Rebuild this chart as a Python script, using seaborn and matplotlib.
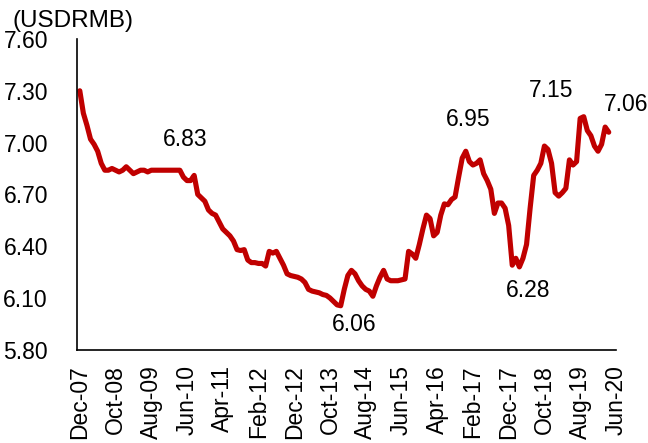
import numpy as np
import pandas as pd
import seaborn as sns
import matplotlib
matplotlib.use("Agg")
import matplotlib.pyplot as plt

# monthly USDRMB, Dec-07 .. Apr-20
usdrmb = [
    7.30, 7.17, 7.10, 7.02, 6.99, 6.95, 6.88, 6.84, 6.84, 6.85,   # Dec-07 .. Sep-08
    6.84, 6.83, 6.84, 6.86, 6.84, 6.82, 6.83, 6.84, 6.84, 6.83,   # Oct-08 .. Jul-09
    6.84, 6.84, 6.84, 6.84, 6.84, 6.84, 6.84, 6.84, 6.84, 6.80,   # Aug-09 .. May-10
    6.78, 6.78, 6.81, 6.70, 6.68, 6.66, 6.61, 6.59, 6.58, 6.54,   # Jun-10 .. Mar-11
    6.50, 6.48, 6.46, 6.43, 6.38, 6.375, 6.38, 6.32, 6.305, 6.305,  # Apr-11 .. Jan-12
    6.30, 6.30, 6.285, 6.37, 6.36, 6.37, 6.33, 6.29, 6.24, 6.23,  # Feb-12 .. Nov-12
    6.225, 6.22, 6.21, 6.19, 6.15, 6.14, 6.135, 6.13, 6.12, 6.115,  # Dec-12 .. Sep-13
    6.10, 6.08, 6.06, 6.055, 6.15, 6.23, 6.26, 6.24, 6.20, 6.17,  # Oct-13 .. Jul-14
    6.15, 6.14, 6.11, 6.17, 6.22, 6.26, 6.21, 6.20, 6.20, 6.20,   # Aug-14 .. May-15
    6.205, 6.21, 6.37, 6.355, 6.33, 6.41, 6.50, 6.58, 6.56, 6.46,  # Jun-15 .. Mar-16
    6.48, 6.58, 6.645, 6.64, 6.67, 6.685, 6.80, 6.91, 6.95, 6.89,  # Apr-16 .. Jan-17
    6.87, 6.88, 6.90, 6.82, 6.78, 6.73, 6.59, 6.65, 6.65, 6.62,   # Feb-17 .. Nov-17
    6.52, 6.29, 6.33, 6.28, 6.33, 6.41, 6.62, 6.81, 6.84, 6.88,   # Dec-17 .. Sep-18
    6.98, 6.96, 6.88, 6.71, 6.69, 6.71, 6.735, 6.90, 6.87, 6.89,  # Oct-18 .. Jul-19
    7.14, 7.15, 7.07, 7.04, 6.98, 6.95, 6.99, 7.09, 7.06,         # Aug-19 .. Apr-20
]
month_idx = list(range(len(usdrmb)))

tick_labels = ["Dec-07", "Oct-08", "Aug-09", "Jun-10", "Apr-11", "Feb-12",
               "Dec-12", "Oct-13", "Aug-14", "Jun-15", "Apr-16", "Feb-17",
               "Dec-17", "Oct-18", "Aug-19", "Jun-20"]
tick_pos = list(range(0, 151, 10))

# callout labels: text, month index, y position
callouts = [("6.83", 29.4, 7.015), ("6.95", 108.6, 7.131), ("7.15", 131.9, 7.299),
            ("7.06", 152.9, 7.223), ("6.06", 76.9, 5.944), ("6.28", 125.4, 6.146)]

sns.set_style("white")
plt.rcParams["font.family"] = ["Liberation Sans", "DejaVu Sans"]
plt.rcParams["text.color"] = "black"

df = pd.DataFrame({"m": month_idx, "rate": usdrmb})

fig = plt.figure(figsize=(6.48, 4.43), dpi=100)
ax = fig.add_axes([0.119, 0.2104, 0.832, 0.7016])

sns.lineplot(data=df, x="m", y="rate", ax=ax, color="#C00000", linewidth=3.7,
             solid_capstyle="round", solid_joinstyle="round")

ax.set_xlim(-0.75, 150.1)
ax.set_ylim(5.80, 7.60)
ax.set_yticks(np.arange(5.80, 7.61, 0.30))
ax.set_yticklabels([f"{v:.2f}" for v in np.arange(5.80, 7.61, 0.30)])
ax.set_xticks(tick_pos)
ax.set_xticklabels(tick_labels, rotation=90)
ax.tick_params(axis="both", length=0, labelsize=16.5, colors="black")
ax.tick_params(axis="y", pad=21)
ax.tick_params(axis="x", pad=11)
ax.set_xlabel("")
ax.set_ylabel("")

for s in ["top", "right"]:
    ax.spines[s].set_visible(False)
for s in ["left", "bottom"]:
    ax.spines[s].set_color("black")
    ax.spines[s].set_linewidth(1.2)

for txt, x, y in callouts:
    ax.text(x, y, txt, ha="center", va="center", fontsize=16.5, color="black",
            clip_on=False)

fig.text(0.02, 0.953, "(USDRMB)", ha="left", va="center", fontsize=17.5,
         color="black")

fig.savefig("out.png", dpi=100)
